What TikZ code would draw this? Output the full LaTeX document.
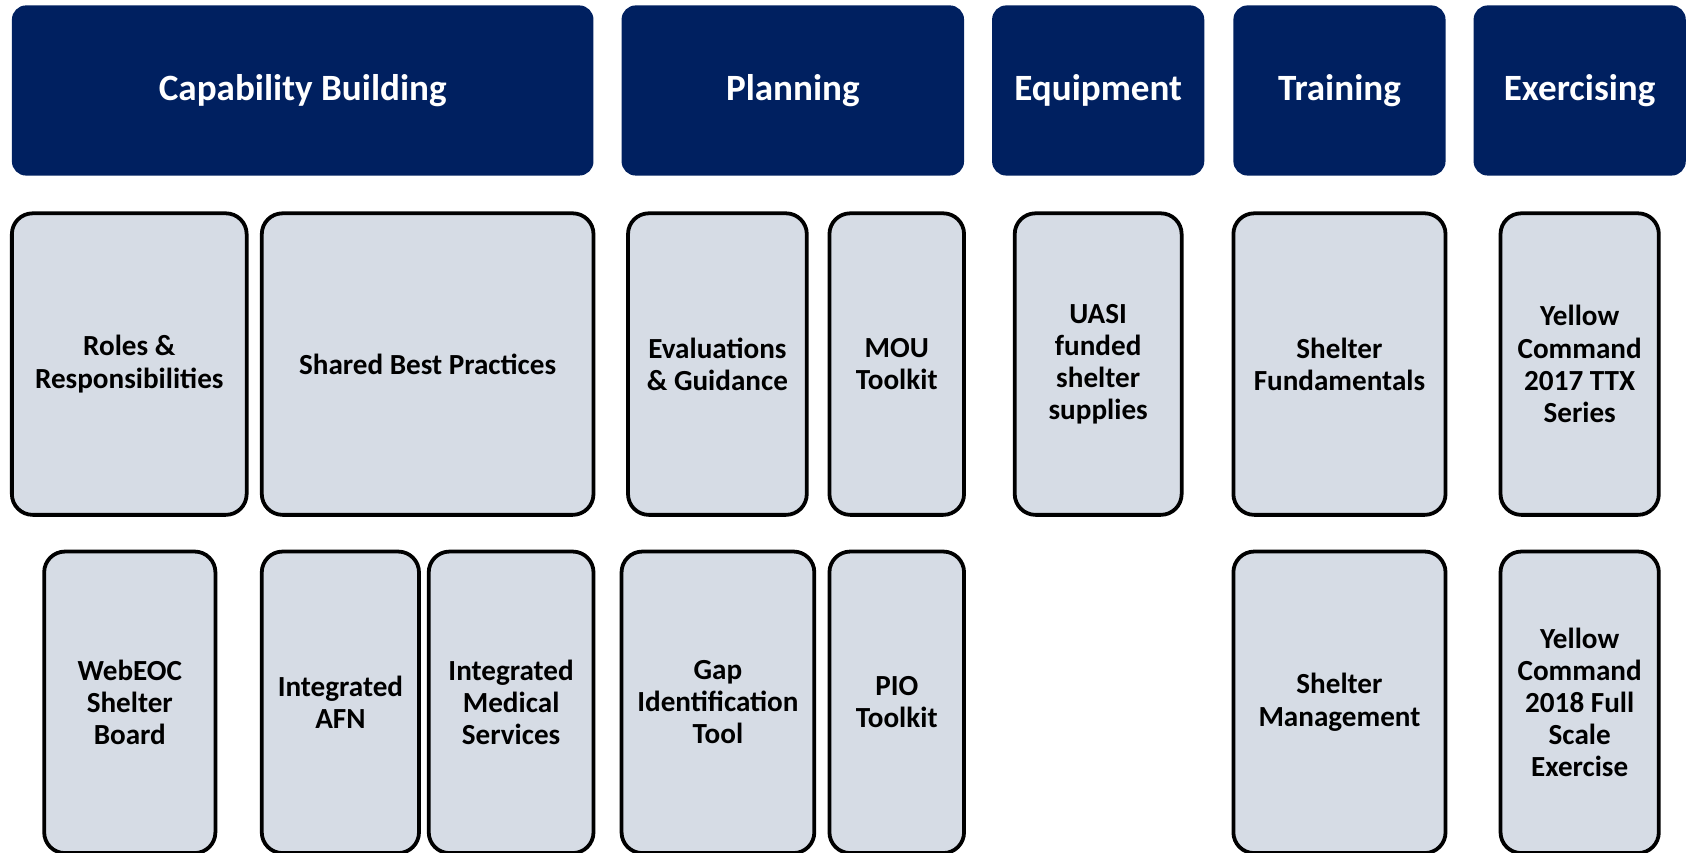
\documentclass[tikz,border=0pt]{standalone}
\usepackage{fontspec}
\setmainfont{Carlito}
\definecolor{headblue}{HTML}{002060}
\definecolor{cardgray}{HTML}{D6DCE5}
\tikzset{
  head/.style={rectangle,rounded corners=7.5pt,fill=headblue,text=white,font=\fontsize{19.6}{23}\selectfont\bfseries,minimum height=3.16cm,inner sep=0pt},
  card/.style={rectangle,rounded corners=#1,draw=black,line width=2pt,fill=cardgray,align=center,font=\fontsize{15.4}{17}\selectfont\bfseries,inner sep=0pt},
  card/.default=11pt,
  row1/.style={card,minimum height=5.6cm},
  row2/.style={card,minimum height=5.6cm}
}
\begin{document}
\begin{tikzpicture}[x=0.02cm,y=-0.02cm]
\useasboundingbox (0,0) rectangle (1568,791);
\clip (0,0) rectangle (1568,791);
\node[head,minimum width=10.8cm] (capb) at (281,84) {Capability Building};
\node[head,minimum width=6.36cm] (plan) at (736,84) {Planning};
\node[head,minimum width=3.94cm] (equip) at (1019.5,84) {Equipment};
\node[head,minimum width=3.94cm] (train) at (1243.5,84) {Training};
\node[head,minimum width=3.94cm] (exer) at (1466.5,84) {Exercising};
\node[row1,minimum width=4.36cm] (roles) at (120,338) {Roles \&\\Responsibilities};
\node[row1=14pt,minimum width=6.16cm] (shared) at (397,338) {Shared Best Practices};
\node[row1,minimum width=3.32cm] (evals) at (666,338) {Evaluations\\\& Guidance};
\node[row1,minimum width=2.5cm] (mou) at (832.5,338) {MOU\\Toolkit};
\node[row1,minimum width=3.1cm] (uasi) at (1019.5,338) {UASI\\funded\\shelter\\supplies};
\node[row1,minimum width=3.94cm] (fund) at (1243.5,338) {Shelter\\Fundamentals};
\node[row1,minimum width=2.94cm] (ttx) at (1466.5,338) {Yellow\\Command\\2017 TTX\\Series};
\node[row2,minimum width=3.18cm] (webeoc) at (120.5,652) {WebEOC\\Shelter\\Board};
\node[row2,minimum width=2.92cm] (afn) at (316,652) {Integrated\\AFN};
\node[row2,minimum width=3.06cm] (medical) at (474.5,652) {Integrated\\Medical\\Services};
\node[row2,minimum width=3.58cm] (gap) at (666.5,652) {Gap\\Identification\\Tool};
\node[row2,minimum width=2.5cm] (pio) at (832.5,652) {PIO\\Toolkit};
\node[row2,minimum width=3.94cm] (mgmt) at (1243.5,652) {Shelter\\Management};
\node[row2,minimum width=2.94cm] (fse) at (1466.5,652) {Yellow\\Command\\2018 Full\\Scale\\Exercise};
\end{tikzpicture}
\end{document}
